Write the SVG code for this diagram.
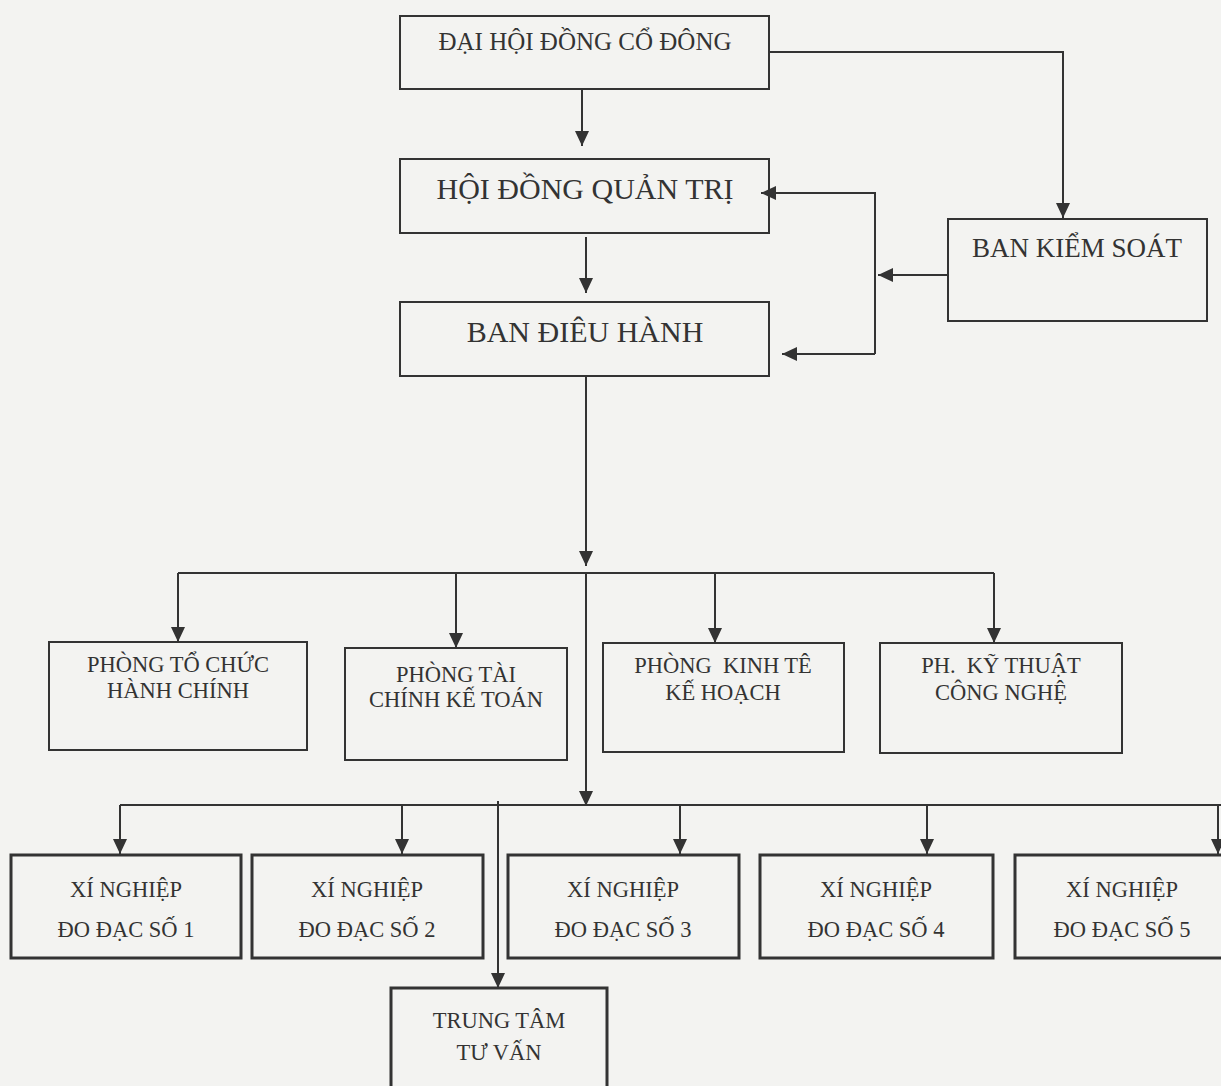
<svg xmlns="http://www.w3.org/2000/svg" width="1221" height="1086" viewBox="0 0 1221 1086">
<style>
.bg{fill:#f3f3f1}
.box{fill:none;stroke:#333;stroke-width:2}
.box3{fill:none;stroke:#333;stroke-width:3}
.t{font-family:"Liberation Serif","Times New Roman",serif;fill:#333;text-anchor:middle}
.t25{font-size:25px}
.t30{font-size:30px}
.t27{font-size:27px}
.t22{font-size:22.5px}
.c{fill:none;stroke:#333;stroke-width:2}
.ca{fill:none;stroke:#333;stroke-width:2;marker-end:url(#ah)}
</style>
<defs>
<marker id="ah" markerUnits="userSpaceOnUse" markerWidth="15" markerHeight="14" refX="15" refY="7" orient="auto">
<path d="M0,0 L15,7 L0,14 z" fill="#333"/>
</marker>
</defs>
<rect class="bg" x="0" y="0" width="1221" height="1086"/>

<g id="connectors">
<path class="ca" d="M582,89 V146"/>
<path class="ca" d="M586,237 V293"/>
<path class="ca" d="M769,52 H1063 V218"/>
<path class="ca" d="M948,275 H878"/>
<path class="ca" d="M875,354 V193 H761"/>
<path class="ca" d="M875,354 H782"/>
<path class="ca" d="M586,376 V566"/>
<path class="c" d="M178,573 H994"/>
<path class="ca" d="M178,573 V642"/>
<path class="ca" d="M456,573 V648"/>
<path class="ca" d="M715,573 V643"/>
<path class="ca" d="M994,573 V643"/>
<path class="ca" d="M586,573 V806"/>
<path class="c" d="M120,805 H1221"/>
<path class="ca" d="M120,805 V854"/>
<path class="ca" d="M402,805 V854"/>
<path class="ca" d="M680,805 V854"/>
<path class="ca" d="M927,805 V854"/>
<path class="ca" d="M1218,805 V854"/>
<path class="ca" d="M498,801 V988"/>
</g>

<g id="n-dhdcd">
<rect class="box" x="400" y="16" width="369" height="73"/>
<text class="t t25" x="585" y="50">ĐẠI HỘI ĐỒNG CỔ ĐÔNG</text>
</g>
<g id="n-hdqt">
<rect class="box" x="400" y="159" width="369" height="74"/>
<text class="t t30" x="585" y="199">HỘI ĐỒNG QUẢN TRỊ</text>
</g>
<g id="n-bdh">
<rect class="box" x="400" y="302" width="369" height="74"/>
<text class="t t30" x="585" y="342">BAN ĐIÊU HÀNH</text>
</g>
<g id="n-bks">
<rect class="box" x="948" y="219" width="259" height="102"/>
<text class="t t27" x="1077" y="257">BAN KIỂM SOÁT</text>
</g>

<g id="n-p1">
<rect class="box" x="49" y="642" width="258" height="108"/>
<text class="t t22" x="178" y="672">PHÒNG TỔ CHỨC</text>
<text class="t t22" x="178" y="698">HÀNH CHÍNH</text>
</g>
<g id="n-p2">
<rect class="box" x="345" y="648" width="222" height="112"/>
<text class="t t22" x="456" y="682">PHÒNG TÀI</text>
<text class="t t22" x="456" y="707">CHÍNH KẾ TOÁN</text>
</g>
<g id="n-p3">
<rect class="box" x="603" y="643" width="241" height="109"/>
<text class="t t22" x="723" y="673" xml:space="preserve">PHÒNG  KINH TÊ</text>
<text class="t t22" x="723" y="700">KẾ HOẠCH</text>
</g>
<g id="n-p4">
<rect class="box" x="880" y="643" width="242" height="110"/>
<text class="t t22" x="1001" y="673" xml:space="preserve">PH.  KỸ THUẬT</text>
<text class="t t22" x="1001" y="700">CÔNG NGHỆ</text>
</g>

<g id="n-xn1">
<rect class="box3" x="11" y="855" width="230" height="103"/>
<text class="t t22" x="126" y="897">XÍ NGHIỆP</text>
<text class="t t22" x="126" y="937">ĐO ĐẠC SỐ 1</text>
</g>
<g id="n-xn2">
<rect class="box3" x="252" y="855" width="231" height="103"/>
<text class="t t22" x="367" y="897">XÍ NGHIỆP</text>
<text class="t t22" x="367" y="937">ĐO ĐẠC SỐ 2</text>
</g>
<g id="n-xn3">
<rect class="box3" x="508" y="855" width="231" height="103"/>
<text class="t t22" x="623" y="897">XÍ NGHIỆP</text>
<text class="t t22" x="623" y="937">ĐO ĐẠC SỐ 3</text>
</g>
<g id="n-xn4">
<rect class="box3" x="760" y="855" width="233" height="103"/>
<text class="t t22" x="876" y="897">XÍ NGHIỆP</text>
<text class="t t22" x="876" y="937">ĐO ĐẠC SỐ 4</text>
</g>
<g id="n-xn5">
<rect class="box3" x="1015" y="855" width="216" height="103"/>
<text class="t t22" x="1122" y="897">XÍ NGHIỆP</text>
<text class="t t22" x="1122" y="937">ĐO ĐẠC SỐ 5</text>
</g>
<g id="n-tttv">
<rect class="box3" x="391" y="988" width="216" height="110"/>
<text class="t t22" x="499" y="1028">TRUNG TÂM</text>
<text class="t t22" x="499" y="1060">TƯ VẤN</text>
</g>
</svg>
